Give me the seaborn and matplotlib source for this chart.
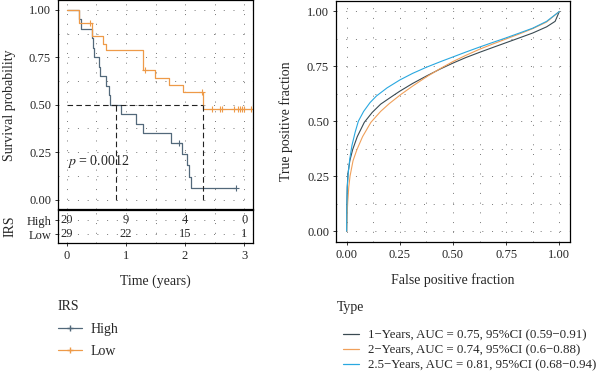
import numpy as np
import pandas as pd
import matplotlib
matplotlib.use("Agg")
import matplotlib.pyplot as plt
from matplotlib.lines import Line2D
import seaborn as sns

# KM steps (time in years, survival probability)
high_time = [0, 0.20, 0.24, 0.42, 0.44, 0.46, 0.55, 0.56, 0.67, 0.71, 0.73, 0.92,
             1.17, 1.28, 1.77, 1.94, 2.03, 2.06, 2.10, 2.87]
high_surv = [1.0, 0.95, 0.90, 0.85, 0.80, 0.75, 0.70, 0.65, 0.60, 0.55, 0.50, 0.45,
             0.40, 0.35, 0.30, 0.24, 0.18, 0.12, 0.06, 0.06]
high_cens_time = [1.90, 2.87]
high_cens_surv = [0.30, 0.06]

low_time = [0, 0.20, 0.43, 0.61, 0.66, 1.29, 1.49, 1.73, 1.97, 2.30, 3.15]
low_surv = [1.0, 0.931, 0.862, 0.823, 0.787, 0.683, 0.642, 0.604, 0.568, 0.475, 0.475]
low_cens_time = [0.39, 1.32, 2.29, 2.45, 2.59, 2.62, 2.82, 2.89, 2.93, 2.97, 3.0, 3.12]
low_cens_surv = [0.931, 0.683, 0.568, 0.475, 0.475, 0.475, 0.475, 0.475, 0.475, 0.475, 0.475, 0.475]

median_times = [0.825, 2.31]
p_label = "$p$ = 0.0012"

# number at risk table
risk_times = [0, 1, 2, 3]
risk_high = [20, 9, 4, 0]
risk_low = [29, 22, 15, 1]

# ROC curves
roc1_fpr = [0, 0.001, 0.003, 0.006, 0.015, 0.028, 0.05, 0.083, 0.12, 0.16, 0.216, 0.25,
            0.31, 0.375, 0.44, 0.5, 0.56, 0.625, 0.69, 0.75, 0.81, 0.875, 0.94, 0.98, 1.0]
roc1_tpr = [0, 0.10, 0.20, 0.26, 0.32, 0.37, 0.43, 0.495, 0.54, 0.578, 0.615, 0.637,
            0.672, 0.706, 0.738, 0.765, 0.79, 0.814, 0.837, 0.858, 0.879, 0.902, 0.93, 0.955, 1.0]
roc2_fpr = [0, 0.002, 0.005, 0.01, 0.016, 0.03, 0.048, 0.075, 0.114, 0.16, 0.2, 0.255,
            0.31, 0.375, 0.44, 0.5, 0.56, 0.625, 0.69, 0.75, 0.81, 0.875, 0.94, 1.0]
roc2_tpr = [0, 0.07, 0.13, 0.20, 0.25, 0.32, 0.37, 0.43, 0.495, 0.545, 0.58, 0.622,
            0.66, 0.702, 0.74, 0.772, 0.80, 0.828, 0.853, 0.875, 0.897, 0.922, 0.952, 1.0]
roc3_fpr = [0, 0.001, 0.003, 0.008, 0.015, 0.025, 0.04, 0.055, 0.08, 0.11, 0.14, 0.19,
            0.25, 0.31, 0.375, 0.44, 0.5, 0.56, 0.625, 0.69, 0.75, 0.81, 0.875, 0.94, 1.0]
roc3_tpr = [0, 0.10, 0.20, 0.27, 0.33, 0.39, 0.45, 0.50, 0.545, 0.585, 0.615, 0.652,
            0.688, 0.718, 0.746, 0.771, 0.793, 0.815, 0.838, 0.86, 0.88, 0.901, 0.924, 0.955, 1.0]
roc_labels = ["1\u2212Years, AUC = 0.75, 95%CI (0.59\u22120.91)",
              "2\u2212Years, AUC = 0.74, 95%CI (0.6\u22120.88)",
              "2.5\u2212Years, AUC = 0.81, 95%CI (0.68\u22120.94)"]

col_high = "#52687A"
col_low = "#EE9A48"
roc_cols = ["#3A4A52", "#F0A05A", "#29A8E0"]

sns.set_style("ticks")
plt.rcParams["font.family"] = ["Liberation Serif", "DejaVu Serif"]
plt.rcParams["mathtext.fontset"] = "stix"
plt.rcParams["axes.linewidth"] = 0.9

W, H = 600, 381
fig = plt.figure(figsize=(6, 3.81), dpi=100)
ax_km = fig.add_axes([58 / W, 1 - 209 / H, 195 / W, 208.5 / H])
ax_tab = fig.add_axes([58 / W, 1 - 243 / H, 195 / W, 33 / H])
ax_roc = fig.add_axes([336 / W, 1 - 242 / H, 234 / W, 241.5 / H])

dot = (0, (1, 9))
tick_fs = 9
lab_fs = 10


def dotted_grid(ax):
    ax.grid(which="both", linestyle=dot, color="#777777", linewidth=0.7)
    ax.set_axisbelow(True)


def style_ticks(ax):
    ax.tick_params(which="major", direction="out", length=2.5, width=0.7,
                   pad=2.5, labelsize=tick_fs, color="#333333")
    ax.tick_params(which="minor", length=0)
    for s in ax.spines.values():
        s.set_color("black")
        s.set_linewidth(0.9)


# ---- KM plot
sns.lineplot(x=high_time, y=high_surv, ax=ax_km, color=col_high, linewidth=0.9,
             drawstyle="steps-post", estimator=None)
sns.lineplot(x=low_time, y=low_surv, ax=ax_km, color=col_low, linewidth=0.9,
             drawstyle="steps-post", estimator=None)
ax_km.plot(high_cens_time, high_cens_surv, "+", color=col_high, markersize=5, mew=0.8)
ax_km.plot(low_cens_time, low_cens_surv, "+", color=col_low, markersize=5, mew=0.8)

ax_km.plot([0, median_times[1]], [0.5, 0.5], color="#222222", linestyle=(0, (5, 3)), linewidth=0.8)
for mt in median_times:
    ax_km.plot([mt, mt], [0, 0.5], color="#222222", linestyle=(0, (5, 3)), linewidth=0.8)
ax_km.text(0.0, 0.2, p_label, fontsize=10, va="center", ha="left")

ax_km.set_xlim(-0.15, 3.15)
ax_km.set_ylim(-0.05, 1.05)
ax_km.set_xticks([0, 1, 2, 3])
ax_km.set_xticks([0.5, 1.5, 2.5], minor=True)
ax_km.set_yticks([0, 0.25, 0.5, 0.75, 1.0])
ax_km.set_yticks([0.125, 0.375, 0.625, 0.875], minor=True)
ax_km.set_yticklabels(["0.00", "0.25", "0.50", "0.75", "1.00"])
ax_km.set_xticklabels([])
ax_km.set_xlabel("")
ax_km.set_ylabel("Survival probability", fontsize=lab_fs)
ax_km.yaxis.set_label_coords(-0.215, 0.5)
dotted_grid(ax_km)
style_ticks(ax_km)

# ---- risk table
rows = {"High": 2, "Low": 1}
for t, h, l in zip(risk_times, risk_high, risk_low):
    ax_tab.text(t, rows["High"], str(h), ha="center", va="center", fontsize=tick_fs)
    ax_tab.text(t, rows["Low"], str(l), ha="center", va="center", fontsize=tick_fs)
ax_tab.set_xlim(-0.15, 3.15)
ax_tab.set_ylim(0.4, 2.7)
ax_tab.set_xticks([0, 1, 2, 3])
ax_tab.set_xticks([0.5, 1.5, 2.5], minor=True)
ax_tab.set_yticks([2, 1])
ax_tab.set_yticklabels(["High", "Low"])
ax_tab.set_ylabel("IRS", fontsize=lab_fs)
ax_tab.yaxis.set_label_coords(-0.215, 0.5)
ax_tab.set_xlabel("Time (years)", fontsize=lab_fs, labelpad=9)
dotted_grid(ax_tab)
style_ticks(ax_tab)

# ---- ROC
roc_df = pd.concat([
    pd.DataFrame({"fpr": f, "tpr": t, "Type": lab})
    for f, t, lab in zip([roc1_fpr, roc2_fpr, roc3_fpr],
                         [roc1_tpr, roc2_tpr, roc3_tpr], roc_labels)
])
sns.lineplot(data=roc_df, x="fpr", y="tpr", hue="Type", palette=roc_cols,
             sort=False, estimator=None, linewidth=0.8, ax=ax_roc, legend=False)
ax_roc.set_xlim(-0.05, 1.05)
ax_roc.set_ylim(-0.05, 1.05)
ticks = [0, 0.25, 0.5, 0.75, 1.0]
ax_roc.set_xticks(ticks)
ax_roc.set_yticks(ticks)
ax_roc.set_xticks([0.125, 0.375, 0.625, 0.875], minor=True)
ax_roc.set_yticks([0.125, 0.375, 0.625, 0.875], minor=True)
ax_roc.set_xticklabels(["0.00", "0.25", "0.50", "0.75", "1.00"])
ax_roc.set_yticklabels(["0.00", "0.25", "0.50", "0.75", "1.00"])
ax_roc.set_xlabel("False positive fraction", fontsize=lab_fs, labelpad=9)
ax_roc.set_ylabel("True positive fraction", fontsize=lab_fs)
ax_roc.yaxis.set_label_coords(-0.183, 0.5)
dotted_grid(ax_roc)
style_ticks(ax_roc)

# ---- legends
fig.text(58 / W, 1 - 307 / H, "IRS", fontsize=lab_fs, va="center", ha="left")
km_handles = [Line2D([], [], color=col_high, marker="+", markersize=5, lw=0.9),
              Line2D([], [], color=col_low, marker="+", markersize=5, lw=0.9)]
fig.legend(km_handles, ["High", "Low"], loc="upper left",
           bbox_to_anchor=(58 / W, 1 - 323 / H), frameon=False, borderpad=0,
           borderaxespad=0, fontsize=10, handlelength=1.75, handletextpad=0.6,
           labelspacing=0.66)

fig.text(337 / W, 1 - 307 / H, "Type", fontsize=lab_fs, va="center", ha="left")
roc_handles = [Line2D([], [], color=c, lw=0.9) for c in roc_cols]
fig.legend(roc_handles, roc_labels, loc="upper left",
           bbox_to_anchor=(343 / W, 1 - 329 / H), frameon=False, borderpad=0,
           borderaxespad=0, fontsize=9.3, handlelength=1.2, handletextpad=0.7,
           labelspacing=0.24)

fig.savefig("out.png", dpi=100)
